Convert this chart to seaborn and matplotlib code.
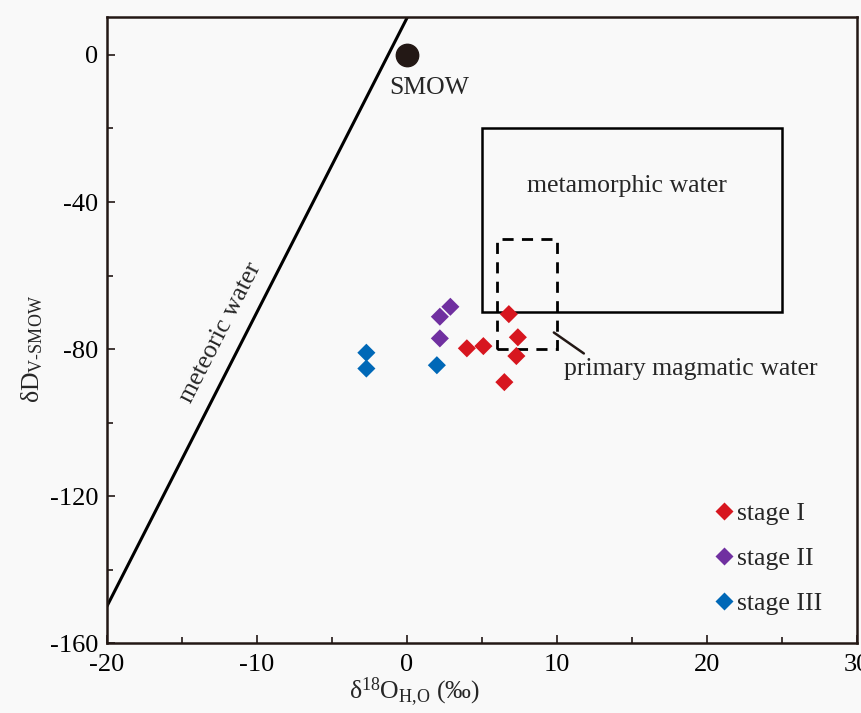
import numpy as np
import pandas as pd
import seaborn as sns
import matplotlib.pyplot as plt
from matplotlib.patches import Rectangle
from matplotlib.ticker import MultipleLocator

# isotope data
stage1_x = [6.8, 7.4, 7.3, 4.0, 5.1, 6.5]
stage1_y = [-70.5, -76.8, -81.9, -79.8, -79.2, -89.0]
stage2_x = [2.2, 2.9, 2.2]
stage2_y = [-71.2, -68.5, -77.1]
stage3_x = [-2.7, -2.7, 2.0]
stage3_y = [-81.0, -85.3, -84.4]
stage_names = ['stage I', 'stage II', 'stage III']
stage_colors = ['#d7161f', '#7030a0', '#0068b7']

# reference fields
smow = (0, 0)
metamorphic_box = (5, 25, -70, -20)
magmatic_box = (6, 10, -80, -50)
meteoric_x = [-20, 2]

sns.set_theme(style='ticks')
plt.rcParams['font.family'] = ['Liberation Serif', 'DejaVu Serif']
plt.rcParams['mathtext.fontset'] = 'custom'
plt.rcParams['mathtext.rm'] = 'Liberation Serif'
plt.rcParams['mathtext.it'] = 'Liberation Serif:italic'
plt.rcParams['axes.unicode_minus'] = False

dk = '#231815'
bg = '#f9f9f9'
fs = 18.5

df = pd.DataFrame({
    'x': stage1_x + stage2_x + stage3_x,
    'y': stage1_y + stage2_y + stage3_y,
    'stage': [stage_names[0]] * len(stage1_x) + [stage_names[1]] * len(stage2_x)
             + [stage_names[2]] * len(stage3_x),
})

fig = plt.figure(figsize=(8.62, 7.13), dpi=100, facecolor=bg)
ax = fig.add_axes([0.124, 0.098, 0.87, 0.878], facecolor=bg)

# meteoric water line dD = 8 d18O + 10
mx = np.array(meteoric_x, dtype=float)
ax.plot(mx, 8 * mx + 10, color='black', lw=2.2)
ax.text(-12.4, -75.6, 'meteoric water', rotation=63, ha='center', va='center', fontsize=fs)

# SMOW
ax.scatter([smow[0]], [smow[1]], s=260, color=dk, zorder=5)
ax.text(1.5, -9, 'SMOW', ha='center', va='center', fontsize=fs)

# metamorphic water
x0, x1, y0, y1 = metamorphic_box
ax.add_patch(Rectangle((x0, y0), x1 - x0, y1 - y0, fill=False, ec='black', lw=1.8))
ax.text(14.7, -35.6, 'metamorphic water', ha='center', va='center', fontsize=fs)

# primary magmatic water
x0, x1, y0, y1 = magmatic_box
ax.add_patch(Rectangle((x0, y0), x1 - x0, y1 - y0, fill=False, ec='black', lw=2,
                       ls=(0, (4, 3))))
ax.plot([9.8, 11.8], [-75.5, -81.2], color=dk, lw=1.8)
ax.text(18.9, -85.3, 'primary magmatic water', ha='center', va='center', fontsize=fs)

sns.scatterplot(data=df, x='x', y='y', hue='stage', palette=stage_colors, marker='D',
                s=85, edgecolor='none', ax=ax, zorder=6)

leg = ax.legend(loc='lower right', bbox_to_anchor=(0.985, 0.008), frameon=False,
                fontsize=fs, handletextpad=-0.1, labelspacing=0.85, markerscale=1.0,
                handlelength=1.2)

ax.set_xlim(-20, 30)
ax.set_ylim(-160, 10.3)
ax.xaxis.set_major_locator(MultipleLocator(10))
ax.xaxis.set_minor_locator(MultipleLocator(5))
ax.yaxis.set_major_locator(MultipleLocator(40))
ax.yaxis.set_minor_locator(MultipleLocator(20))
ax.tick_params(which='both', direction='in', colors=dk, labelcolor='black', labelsize=19, width=1.2)
ax.tick_params(which='major', length=6)
ax.tick_params(which='minor', length=4)
ax.tick_params(axis='x', pad=8)
ax.tick_params(axis='y', pad=6)
for s in ax.spines.values():
    s.set_color(dk)
    s.set_linewidth(1.8)

ax.set_xlabel('δ$^{18}$O$_{\\mathrm{H{,}O}}$ (‰)', fontsize=fs)
ax.set_ylabel('δD$_{\\text{V-SMOW}}$', fontsize=fs)
ax.xaxis.set_label_coords(0.41, -0.052)
ax.yaxis.set_label_coords(-0.083, 0.47)

fig.savefig('out.png', dpi=100, facecolor=bg)
